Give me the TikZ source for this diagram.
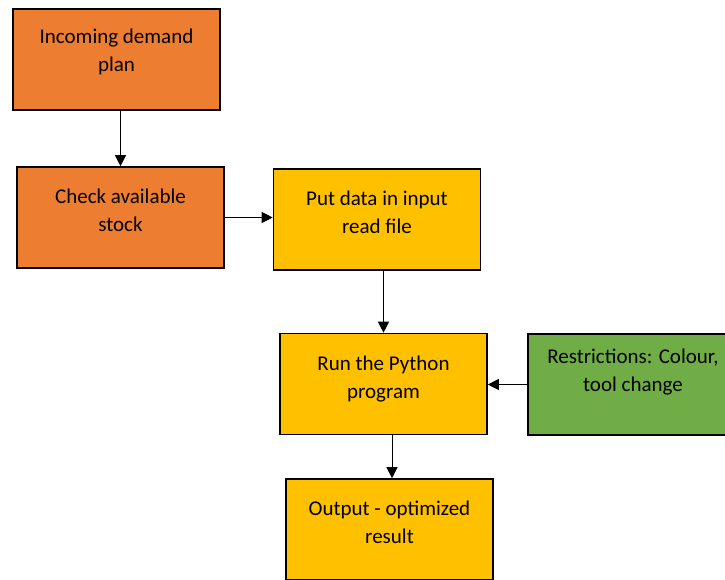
\documentclass[tikz,border=0pt]{standalone}
\usepackage{fontspec}
\setmainfont{Carlito}
\usetikzlibrary{arrows.meta}
\definecolor{stepOrange}{HTML}{ED7D31}
\definecolor{stepYellow}{HTML}{FFC000}
\definecolor{stepGreen}{HTML}{70AD47}
\tikzset{
  stepbox/.style={draw=black, line width=1.6pt, inner sep=0pt,
    minimum width=207pt, minimum height=101pt},
  steptext/.style={anchor=base, align=center, inner sep=0pt,
    font=\fontsize{21pt}{28pt}\selectfont},
  flow/.style={draw=black, line width=0.9pt, -{Triangle[length=11pt,width=11pt]}}
}
\begin{document}
\begin{tikzpicture}[x=1pt, y=-1pt]
  \useasboundingbox (0,0) rectangle (725,579);
  \clip (0,0) rectangle (725,579);

  % boxes (centres in pixel units, y downward)
  \node[stepbox, fill=stepOrange] (b1) at (116.5,59.5) {};
  \node[stepbox, fill=stepOrange] (b2) at (120.5,217.5) {};
  \node[stepbox, fill=stepYellow] (b3) at (377,219.5) {};
  \node[stepbox, fill=stepYellow] (b4) at (383.5,384) {};
  \node[stepbox, fill=stepGreen, minimum width=210pt] (b5) at (633,384.5) {};
  \node[stepbox, fill=stepYellow] (b6) at (389.5,529.5) {};

  % labels, placed by the baseline of their second line
  \node[steptext] (t1) at ([yshift=-63.5pt]b1.north) {Incoming demand\\plan};
  \node[steptext] (t2) at ([yshift=-65pt]b2.north) {Check available\\stock};
  \node[steptext] (t3) at ([yshift=-65pt]b3.north) {Put data in input\\read file};
  \node[steptext] (t4) at ([yshift=-66pt]b4.north) {Run the Python\\program};
  \node[steptext] (t5) at ([yshift=-58pt]b5.north) {Restrictions: Colour,\\tool change};
  \node[steptext] (t6) at ([yshift=-65pt]b6.north) {Output - optimized\\result};

  % connectors
  \draw[flow] (b1.south -| b2.north) -- (b2.north);
  \draw[flow] (b2.east) -- (b2.east -| b3.west);
  \draw[flow] (b3.south -| b4.north) -- (b4.north);
  \draw[flow] (b5.west) -- (b5.west -| b4.east);
  \draw[flow] ([xshift=2.5pt]b4.south -| b6.north) -- ([xshift=2.5pt]b6.north);
\end{tikzpicture}
\end{document}
